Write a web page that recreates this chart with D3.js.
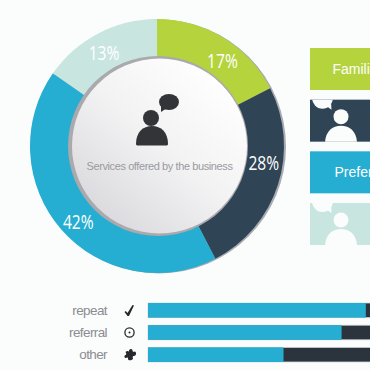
<!DOCTYPE html>
<html>
<head>
<meta charset="utf-8">
<script src="https://cdn.jsdelivr.net/npm/d3@7"></script>
<style>
html, body { margin: 0; padding: 0; background: #fbfdfd; overflow: hidden; }
svg { display: block; }
</style>
</head>
<body>
<svg width="370" height="370"></svg>
<script>
// slice sizes as measured off the ring, the printed labels do not quite add up to them
const sliceShares = [17.5, 24.9, 42.3, 15.3];
const sliceLabels = ["17%", "28%", "42%", "13%"];
const sliceColors = ["#b5d33d", "#2f4454", "#25aed1", "#c8e6df"];

const boxLabels = ["Familiar", null, "Preferred", null];
const rowNames = ["repeat", "referral", "other"];
const rowValues = [90, 80, 56];

const svg = d3.select("svg");
const cx = 157, cy = 146;

const defs = svg.append("defs");
const grad = defs.append("linearGradient").attr("id", "disc")
    .attr("x1", "85%").attr("y1", "10%").attr("x2", "15%").attr("y2", "90%");
grad.append("stop").attr("offset", "0").attr("stop-color", "#ffffff");
grad.append("stop").attr("offset", "0.5").attr("stop-color", "#f2f2f3");
grad.append("stop").attr("offset", "1").attr("stop-color", "#dadade");

// grey rim peeking out behind the ring on the right
svg.append("circle").attr("cx", cx + 2).attr("cy", cy + 0.5).attr("r", 127).attr("fill", "#a9abb3");

const pie = d3.pie().sort(null).value(d => d)(sliceShares);
const arc = d3.arc().innerRadius(85).outerRadius(127);

svg.append("g").attr("transform", `translate(${cx},${cy})`)
    .selectAll("path").data(pie).enter().append("path")
    .attr("d", arc)
    .attr("fill", (d, i) => sliceColors[i]);

// inner disc
svg.append("circle").attr("cx", cx + 1).attr("cy", cy).attr("r", 90).attr("fill", "#a9a9ae");
svg.append("circle").attr("cx", cx + 2.5).attr("cy", cy).attr("r", 87.5).attr("fill", "url(#disc)");

// labels sit off the slice centres in the original
const labelOffsets = [[9, 6], [4, -17], [2.5, 4], [-3, 2]];
const labelArc = d3.arc().innerRadius(108).outerRadius(108);
svg.append("g").attr("transform", `translate(${cx},${cy})`)
    .selectAll("text").data(pie).enter().append("text")
    .attr("transform", (d, i) => {
        const c = labelArc.centroid(d);
        return `translate(${c[0] + labelOffsets[i][0]},${c[1] + labelOffsets[i][1]}) scale(0.78,1)`;
    })
    .attr("text-anchor", "middle")
    .attr("dominant-baseline", "central")
    .attr("font-family", "'Open Sans', sans-serif")
    .attr("font-size", 20)
    .attr("fill", "#ffffff")
    .text((d, i) => sliceLabels[i]);

// person with speech bubble
const personPath = "M-16,8 C-16,-4 -9,-10 0,-10 C9,-10 16,-4 16,8 C16,9 15,9.5 14,9.5 L-14,9.5 C-15,9.5 -16,9 -16,8 Z";
const icon = svg.append("g").attr("fill", "#333437");
icon.append("circle").attr("cx", 151).attr("cy", 118).attr("r", 8);
icon.append("path").attr("transform", "translate(152,136)").attr("d", personPath);
icon.append("ellipse").attr("cx", 169).attr("cy", 102).attr("rx", 10).attr("ry", 8);
icon.append("path").attr("d", "M161,106 L161,112 L167,108 Z");

svg.append("text")
    .attr("x", 159.5).attr("y", 166)
    .attr("text-anchor", "middle")
    .attr("dominant-baseline", "central")
    .attr("font-family", "'Liberation Sans', Arial, sans-serif")
    .attr("font-size", 11)
    .attr("letter-spacing", -0.4)
    .attr("fill", "#9a9a9f")
    .text("Services offered by the business");

// boxes on the right, running off the page
const boxY = d3.scaleBand().domain(d3.range(boxLabels.length)).range([48, 245]).paddingInner(0.187);
const boxes = svg.append("g").selectAll("g").data(boxLabels).enter().append("g")
    .attr("transform", (d, i) => `translate(310,${boxY(i)})`);
boxes.append("rect")
    .attr("width", 80)
    .attr("height", boxY.bandwidth())
    .attr("fill", (d, i) => sliceColors[i]);
boxes.filter(d => d !== null).append("text")
    .attr("x", (d, i) => i === 0 ? 22.5 : 24.5)
    .attr("y", boxY.bandwidth() / 2)
    .attr("dominant-baseline", "central")
    .attr("font-family", "'Liberation Sans', Arial, sans-serif")
    .attr("font-size", 14)
    .attr("fill", "#ffffff")
    .text(d => d);
const faces = boxes.filter(d => d === null);
faces.append("clipPath").attr("id", (d, i) => "face" + i)
    .append("rect").attr("width", 80).attr("height", boxY.bandwidth());
const faceG = faces.append("g")
    .attr("clip-path", (d, i) => `url(#face${i})`)
    .attr("fill", "#fbfdfd");
faceG.append("circle").attr("cx", 31).attr("cy", 17).attr("r", 7.5);
faceG.append("path").attr("transform", "translate(31,36)").attr("d", personPath);
faceG.append("ellipse").attr("cx", 12.5).attr("cy", -2).attr("rx", 10.5).attr("ry", 11);
faceG.append("path").attr("d", "M16,6 L21.5,10 L21,2 Z");

// bars at the bottom
const x = d3.scaleLinear().domain([0, 100]).range([148, 390]);
const y = d3.scaleBand().domain(rowNames).range([303, 362]).paddingInner(0.34);

const rows = svg.append("g").selectAll("g").data(rowNames).enter().append("g");
rows.append("rect")
    .attr("x", x(0))
    .attr("y", d => y(d))
    .attr("width", x(100) - x(0))
    .attr("height", y.bandwidth())
    .attr("fill", "#2b333c")
    .attr("stroke", "#d3d7da")
    .attr("stroke-width", 0.8);
rows.append("rect")
    .attr("x", x(0))
    .attr("y", d => y(d))
    .attr("width", (d, i) => x(rowValues[i]) - x(0))
    .attr("height", y.bandwidth())
    .attr("fill", "#25aed1");
rows.append("text")
    .attr("x", 107)
    .attr("y", d => y(d) + y.bandwidth() / 2)
    .attr("text-anchor", "end")
    .attr("dominant-baseline", "central")
    .attr("font-family", "'Liberation Sans', Arial, sans-serif")
    .attr("font-size", 13.5)
    .attr("letter-spacing", -0.6)
    .attr("fill", "#8c8c90")
    .text(d => d);

// row icons
const rowIcons = svg.append("g").attr("fill", "#26282c");
rowIcons.append("path")
    .attr("d", "M124.5,312 L125.8,311 L127.5,313 L132.5,305 L134,305.5 L129,316 L127.5,316 Z");
rowIcons.append("circle").attr("cx", 129.5).attr("cy", 332.5).attr("r", 4.6)
    .attr("fill", "none").attr("stroke", "#26282c").attr("stroke-width", 1.3);
rowIcons.append("circle").attr("cx", 129.5).attr("cy", 332.5).attr("r", 1);
rowIcons.append("path")
    .attr("d", "M125.5,352 C127,350.5 128,351 129,351.5 C128.5,349 132,348 132.5,350.5 C132.5,352 134,352 135,351.5 C137,353 136,356 134,356 C132,356 133,358 133,359 C131,361 128,360.5 128,359 C128.5,357.5 127,357 126,358 C124,358 124,355.5 125.5,355 C127,354.5 126,353 125.5,352 Z");
</script>
</body>
</html>
